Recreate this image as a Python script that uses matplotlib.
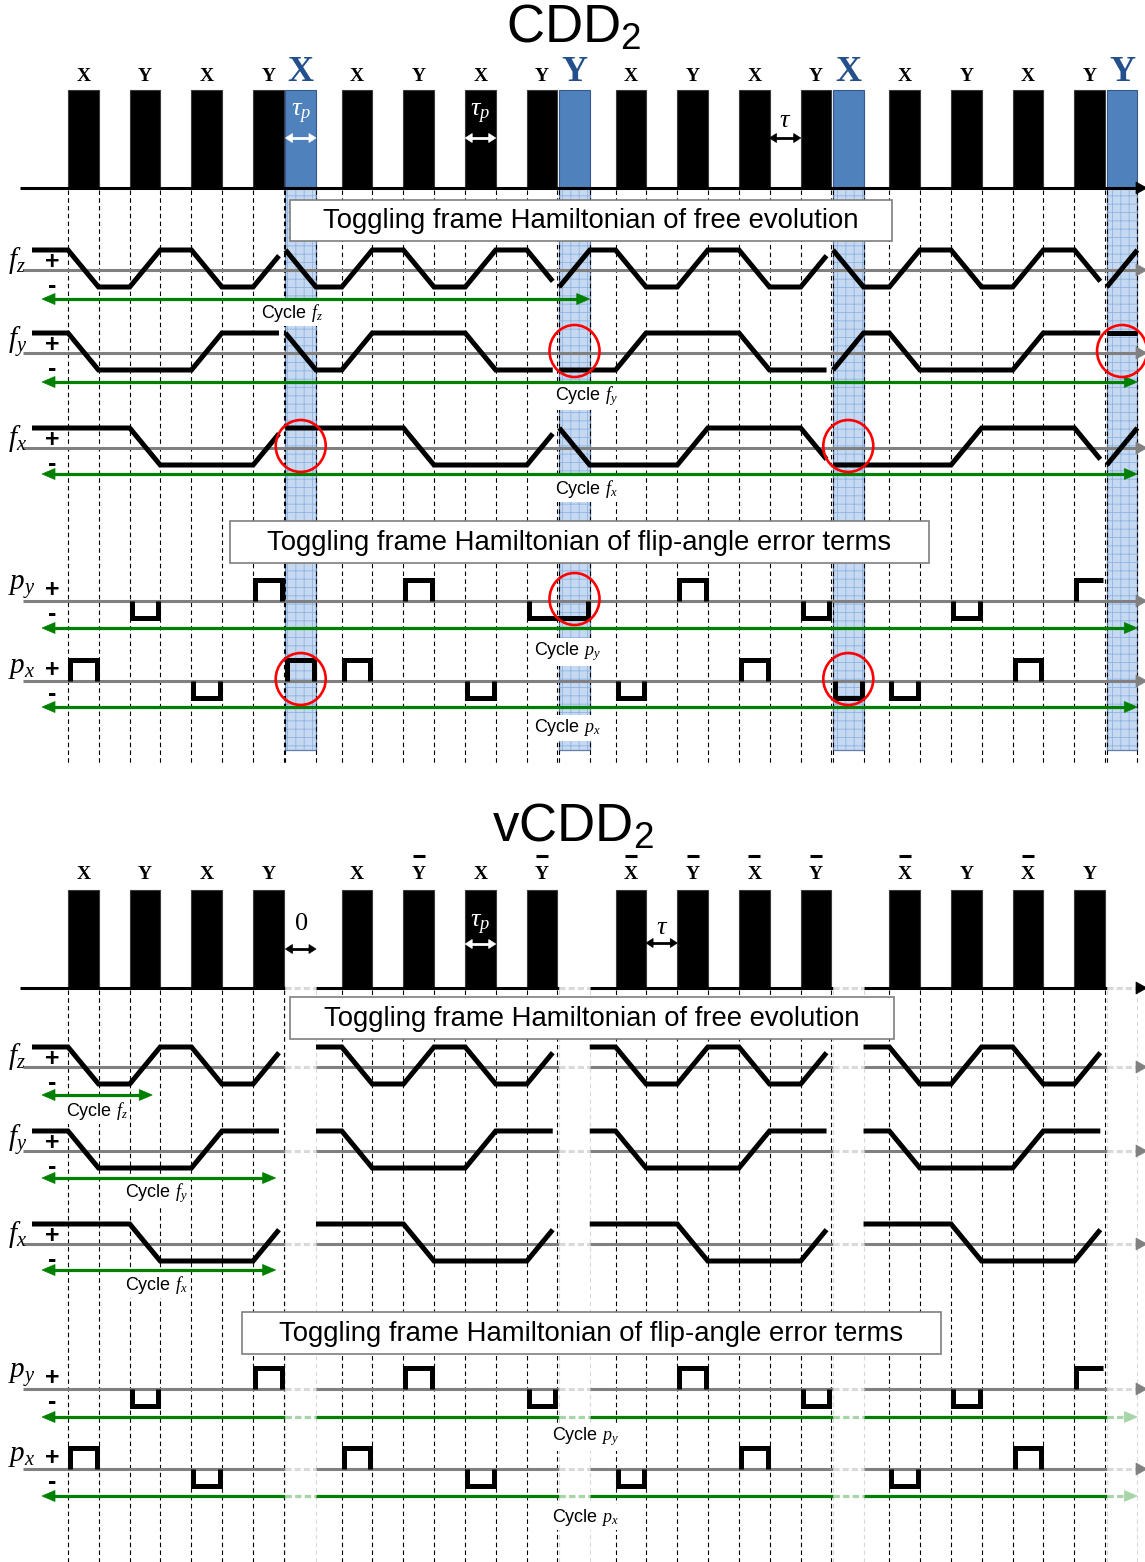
import numpy as np
import matplotlib
matplotlib.use('Agg')
import matplotlib.pyplot as plt
from matplotlib.patches import Rectangle, Ellipse, Polygon

plt.rcParams['font.family'] = ['Liberation Sans', 'DejaVu Sans']
plt.rcParams['mathtext.fontset'] = 'custom'
plt.rcParams['mathtext.rm'] = 'Liberation Serif'
plt.rcParams['mathtext.it'] = 'Liberation Serif:italic'
plt.rcParams['mathtext.bf'] = 'Liberation Serif:bold'
plt.rcParams['mathtext.sf'] = 'Liberation Sans'
plt.rcParams['hatch.linewidth'] = 0.6

# ------------------------------------------------------------------ data
# timing in units of tau
TAU = 1.0
TAU_P = 0.978
GAP_OUTER = 0.058
TAU_AFTER_OUTER = 0.827

cdd_pulses = ['X', 'Y', 'X', 'Y', 'X', 'X', 'Y', 'X', 'Y', 'Y',
              'X', 'Y', 'X', 'Y', 'X', 'X', 'Y', 'X', 'Y', 'Y']
outer_slot = [0, 0, 0, 0, 1, 0, 0, 0, 0, 1, 0, 0, 0, 0, 1, 0, 0, 0, 0, 1]
vcdd_pulses = ['X', 'Y', 'X', 'Y', '', 'X', 'Yb', 'X', 'Yb', '',
               'Xb', 'Yb', 'Xb', 'Yb', '', 'Xb', 'Y', 'Xb', 'Y', '']

# toggling-frame signs (state before first pulse and after each pulse)
cdd_fz = [1, -1, 1, -1, 1, -1, 1, -1, 1, -1, 1, -1, 1, -1, 1, -1, 1, -1, 1, -1, 1]
cdd_fy = [1, -1, -1, 1, 1, -1, 1, 1, -1, -1, -1, 1, 1, -1, -1, 1, -1, -1, 1, 1, 1]
cdd_fx = [1, 1, -1, -1, 1, 1, 1, -1, -1, 1, -1, -1, 1, 1, -1, -1, -1, 1, 1, -1, 1]
# flip-angle error terms during each pulse
cdd_py = [0, -1, 0, 1, 0, 0, 1, 0, -1, -1, 0, 1, 0, -1, 0, 0, -1, 0, 1, 0]
cdd_px = [1, 0, -1, 0, 1, 1, 0, -1, 0, 0, -1, 0, 1, 0, -1, -1, 0, 1, 0, 0]

vcdd_fz = [1, -1, 1, -1, 1, 1, -1, 1, -1, 1, 1, -1, 1, -1, 1, 1, -1, 1, -1, 1, 1]
vcdd_fy = [1, -1, -1, 1, 1, 1, -1, -1, 1, 1, 1, -1, -1, 1, 1, 1, -1, -1, 1, 1, 1]
vcdd_fx = [1, 1, -1, -1, 1, 1, 1, -1, -1, 1, 1, 1, -1, -1, 1, 1, 1, -1, -1, 1, 1]
vcdd_py = [0, -1, 0, 1, 0, 0, 1, 0, -1, 0, 0, 1, 0, -1, 0, 0, -1, 0, 1, 0]
vcdd_px = [1, 0, -1, 0, 0, 1, 0, -1, 0, 0, -1, 0, 1, 0, 0, -1, 0, 1, 0, 0]

cdd_cycle_end = {'fz': 9, 'fy': 19, 'fx': 19, 'py': 19, 'px': 19}
vcdd_cycle_end = {'fz': 1, 'fy': 3, 'fx': 3, 'py': 19, 'px': 19}
cdd_circles = {'fy': [9, 19], 'fx': [4, 14], 'py': [9], 'px': [4, 14]}
row_names = {'fz': r'$f_z$', 'fy': r'$f_y$', 'fx': r'$f_x$', 'py': r'$p_y$', 'px': r'$p_x$'}

# ------------------------------------------------------------------ layout
W, H = 1145, 1562
X0_PX, PX_PER_TAU = 36.8, 31.2


def t(xpx):
    return (xpx - X0_PX) / PX_PER_TAU


def w(px):
    return px / PX_PER_TAU


def slot_times(outer):
    s, e = [], []
    cur, prev = 0.0, 0
    for o in outer:
        cur += GAP_OUTER if o else (TAU_AFTER_OUTER if prev else TAU)
        s.append(cur)
        cur += TAU_P
        e.append(cur)
        prev = o
    return np.array(s), np.array(e)


starts, ends = slot_times(outer_slot)
mids = (starts + ends) / 2
N = len(starts)

BLUE = '#4F81BD'
BLUE_TXT = '#23508C'
GRAY = '#808080'
LGRAY = '#D9D9D9'
GREEN = '#008000'
LGREEN = '#A8D5A8'

fig = plt.figure(figsize=(W / 100, H / 100), dpi=100)
ax = fig.add_axes([0, 0, 1, 1])
ax.set_xlim(t(0), t(W))
ax.set_ylim(H, 0)
ax.axis('off')


def head(x_tip, y, direction, color, hl, hw, z):
    xb = x_tip - direction * w(hl)
    ax.add_patch(Polygon([(x_tip, y), (xb, y - hw / 2), (xb, y + hw / 2)],
                         closed=True, facecolor=color, edgecolor=color, lw=0.5, zorder=z))


def arrow_line(xa, xb, y, color, light, lw, blanks, left_head, right_head, hl, hw, z):
    """Horizontal line split at blank intervals; optional arrow heads."""
    pieces = []
    pos = xa
    for (ba, bb) in blanks:
        if bb <= xa or ba >= xb:
            continue
        if ba > pos:
            pieces.append((pos, ba, False))
        pieces.append((max(ba, xa), min(bb, xb), True))
        pos = min(bb, xb)
    if pos < xb:
        pieces.append((pos, xb, False))
    for k, (a, b, isb) in enumerate(pieces):
        aa = a + (w(hl) * 0.8 if (k == 0 and left_head) else 0)
        bb = b - (w(hl) * 0.8 if (k == len(pieces) - 1 and right_head) else 0)
        if isb:
            ax.plot([aa, bb], [y, y], color=light, lw=lw, ls=(0, (2, 1)),
                    solid_capstyle='butt', zorder=z)
        else:
            ax.plot([aa, bb], [y, y], color=color, lw=lw, solid_capstyle='butt', zorder=z)
    if left_head:
        head(xa, y, -1, light if pieces[0][2] else color, hl, hw, z)
    if right_head:
        head(xb, y, 1, light if pieces[-1][2] else color, hl, hw, z)


def small_double_arrow(xa, xb, y, color):
    ax.plot([xa + w(5), xb - w(5)], [y, y], color=color, lw=2.0, solid_capstyle='butt', zorder=4)
    head(xa, y, -1, color, 7, 9, 4)
    head(xb, y, 1, color, 7, 9, 4)


def draw_panel(L, pulses, outer, states, errs, cycle_end, circles, vcdd):
    blank = [1 if (vcdd and o) else 0 for o in outer]
    blank_iv = [(starts[i], ends[i]) for i in range(N) if blank[i]]

    # title
    ax.text(t(L['title_x']), L['title_y'], L['title'], ha='center', va='baseline',
            fontsize=38, zorder=5)

    # pulses + labels
    for i in range(N):
        if blank[i]:
            continue
        lab = pulses[i]
        if outer[i]:
            ax.add_patch(Rectangle((starts[i], L['top']), TAU_P, L['axis'] - L['top'],
                                   facecolor=BLUE, edgecolor='#34598A', lw=0.8, zorder=2))
            ax.text(mids[i], L['label_y'], lab, ha='center', va='baseline',
                    family='Liberation Serif', fontweight='bold', fontsize=26,
                    color=BLUE_TXT, zorder=3)
        else:
            ax.add_patch(Rectangle((starts[i], L['top']), TAU_P, L['axis'] - L['top'],
                                   facecolor='black', edgecolor='#3A3A3A', lw=0.8, zorder=2))
            ax.text(mids[i], L['label_y'], lab[0], ha='center', va='baseline',
                    family='Liberation Serif', fontweight='bold', fontsize=14,
                    color='black', zorder=3)
            if lab.endswith('b'):
                ax.plot([mids[i] - w(6), mids[i] + w(6)], [L['bar_y'], L['bar_y']],
                        color='black', lw=2.2, solid_capstyle='butt', zorder=3)

    # time axis
    arrow_line(t(20), t(1147), L['axis'], 'black', LGRAY, 2.2, blank_iv,
               False, True, 11, 12, 3)

    # outer-pulse columns (CDD) and dashed guides
    for i in range(N):
        if outer[i] and not vcdd:
            ax.add_patch(Rectangle((starts[i], L['axis']), TAU_P, L['col_bottom'] - L['axis'],
                                   facecolor='#C6D9F1', edgecolor='#8DB4E2', hatch='++',
                                   lw=0, zorder=1))
            ax.add_patch(Rectangle((starts[i], L['axis']), TAU_P, L['col_bottom'] - L['axis'],
                                   facecolor='none', edgecolor='#5F7FAF', lw=0.9, zorder=1.2))
        col = LGRAY if blank[i] else 'black'
        for x in (starts[i], ends[i]):
            ax.plot([x, x], [L['axis'] + 2, L['bottom']], color=col, lw=0.8,
                    ls=(0, (4, 3)), zorder=1.5)

    # annotations in the pulse region
    for (kind, a, b, txt, ty, ay, col) in L['annot']:
        if kind == 'slot':
            xa, xb = starts[a], ends[a]
        else:
            xa, xb = ends[a], starts[b]
        ax.text((xa + xb) / 2, ty, txt, ha='center', va='center', fontsize=19,
                color=col, zorder=4)
        small_double_arrow(xa, xb, ay, col)

    # text boxes
    for (x0, x1, y0, y1, txt) in L['boxes']:
        ax.add_patch(Rectangle((t(x0), y0), w(x1 - x0), y1 - y0, facecolor='white',
                               edgecolor='#7F7F7F', lw=1.2, zorder=8))
        ax.text(t((x0 + x1) / 2), (y0 + y1) / 2 + 1, txt, ha='center', va='center',
                fontsize=19.8, zorder=9)

    # rows
    for key, (base, gy, (cx, cy)) in L['rows'].items():
        is_f = key.startswith('f')
        ax.text(t(8), base - (10 if is_f else 14), row_names[key], ha='left', va='center',
                fontsize=21, zorder=4)
        ax.text(t(52), base + (4 if is_f else 1), '+\n-', ha='center', va='center',
                multialignment='center', linespacing=1.0, fontsize=18,
                fontweight='bold', zorder=4)
        # baseline
        arrow_line(t(23), t(1147), base, GRAY, LGRAY, 2.2, blank_iv, False, True, 11, 12, 3)
        # cycle arrow
        k = cycle_end[key]
        xend = ends[k] - (w(8) if (vcdd and not blank[k]) else 0)
        arrow_line(t(42), xend, gy, GREEN, LGREEN, 2.3, blank_iv, True, True, 13, 11, 5)
        ax.text(t(cx), cy, 'Cycle ' + row_names[key], ha='center', va='center', fontsize=13,
                bbox=dict(facecolor='white', edgecolor='none', pad=1.5), zorder=4)

        if is_f:
            st = states[key]

            def lv(s):
                return base - 20 if s > 0 else base + 17
            paths, cur = [], [(t(32), st[0])]
            for i in range(N):
                if blank[i]:
                    paths.append((cur, True))
                    cur = [(ends[i], st[i + 1])]
                    continue
                if outer[i] and cur:
                    paths.append((cur, True))
                    cur = []
                cur += [(starts[i], st[i]), (ends[i], st[i + 1])]
            paths.append((cur, False))
            for p, trim in paths:
                if len(p) < 2:
                    continue
                xs = [q[0] for q in p]
                ys = [lv(q[1]) for q in p]
                if trim:
                    x1, y1, x2, y2 = xs[-2], ys[-2], xs[-1], ys[-1]
                    nx = x2 - 0.15
                    ys[-1] = y1 + (y2 - y1) * (nx - x1) / (x2 - x1)
                    xs[-1] = nx
                ax.plot(xs, ys, color='black', lw=3.6, solid_capstyle='butt',
                        solid_joinstyle='miter', zorder=6)
        else:
            er = errs[key]
            groups, i = [], 0
            while i < N:
                e = er[i]
                if e == 0:
                    i += 1
                    continue
                j = i
                while j + 1 < N and er[j + 1] == e and outer[j + 1]:
                    j += 1
                groups.append((starts[i] + w(2), ends[j] - w(2), e))
                i = j + 1
            for gi, (a, b, e) in enumerate(groups):
                y = base - 21 if e > 0 else base + 17
                xs, ys = [a, a, b, b], [base, y, y, base]
                if key == 'py' and gi == len(groups) - 1:
                    xs, ys = xs[:3], ys[:3]
                ax.plot(xs, ys, color='black', lw=3.6, solid_capstyle='butt',
                        solid_joinstyle='miter', zorder=6)

        for s in circles.get(key, []):
            ax.add_patch(Ellipse((mids[s], base - 2), w(50), 52, facecolor='none',
                                 edgecolor='red', lw=1.9, zorder=10))


CDD = dict(title='CDD$_{\\mathsf{2}}$', title_x=574, title_y=43, label_y=81, bar_y=856,
           top=90, axis=188, bottom=765, col_bottom=750,
           rows={'fz': (270, 299, (292, 313)), 'fy': (353, 382, (586, 396)),
                 'fx': (448, 474, (586, 489)), 'py': (601, 628, (567, 652)),
                 'px': (681, 707, (567, 728))},
           boxes=[(290, 892, 200, 241, 'Toggling frame Hamiltonian of free evolution'),
                  (230, 929, 521, 563, 'Toggling frame Hamiltonian of flip-angle error terms')],
           annot=[('slot', 4, None, r'$\tau_p$', 114, 138, 'white'),
                  ('slot', 7, None, r'$\tau_p$', 114, 138, 'white'),
                  ('gap', 12, 13, r'$\tau$', 120, 138, 'black')])

VCDD = dict(title='vCDD$_{\\mathsf{2}}$', title_x=573, title_y=842, label_y=879, bar_y=856,
            top=890, axis=988, bottom=1562, col_bottom=1562,
            rows={'fz': (1067, 1095, (97, 1111)), 'fy': (1151, 1178, (156, 1193)),
                  'fx': (1244, 1270, (156, 1285)), 'py': (1389, 1417, (585, 1437)),
                  'px': (1469, 1496, (585, 1517))},
            boxes=[(290, 894, 997, 1039, 'Toggling frame Hamiltonian of free evolution'),
                   (242, 941, 1312, 1354, 'Toggling frame Hamiltonian of flip-angle error terms')],
            annot=[('slot', 4, None, r'$\mathit{0}$', 923, 949, 'black'),
                   ('slot', 7, None, r'$\tau_p$', 925, 944, 'white'),
                   ('gap', 10, 11, r'$\tau$', 927, 943, 'black')])

draw_panel(CDD, cdd_pulses, outer_slot,
           {'fz': cdd_fz, 'fy': cdd_fy, 'fx': cdd_fx},
           {'py': cdd_py, 'px': cdd_px}, cdd_cycle_end, cdd_circles, False)
draw_panel(VCDD, vcdd_pulses, outer_slot,
           {'fz': vcdd_fz, 'fy': vcdd_fy, 'fx': vcdd_fx},
           {'py': vcdd_py, 'px': vcdd_px}, vcdd_cycle_end, {}, True)

fig.savefig('out.png', dpi=100)
